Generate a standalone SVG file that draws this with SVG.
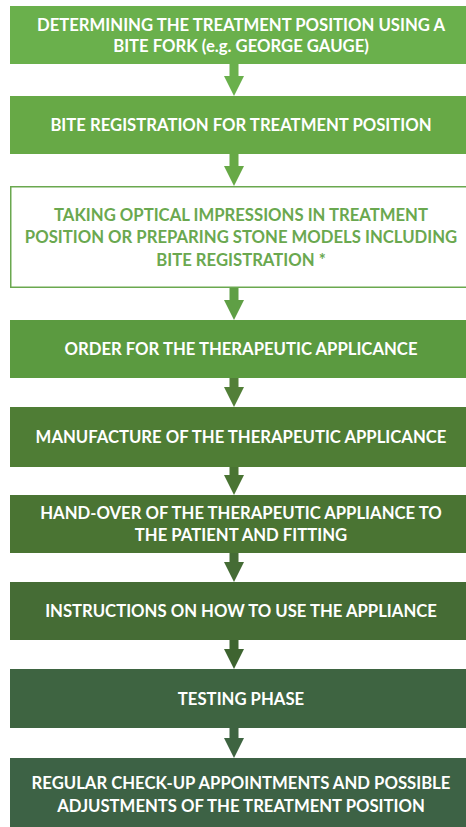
<svg xmlns="http://www.w3.org/2000/svg" width="466" height="827" viewBox="0 0 466 827">
<style>
  .t { font-family: Lato, "Open Sans", "Liberation Sans", sans-serif; font-weight: 700; font-size: 16.7px; text-anchor: middle; fill: #ffffff; }
  .g { fill: #6aa84f; }
</style>
<rect width="466" height="827" fill="#ffffff"/>
<g id="connectors">
  <path d="M229.5,64 H238.5 V76 H244 L234,96 L224,76 H229.5 Z" fill="#6ab04c"/>
  <path d="M229.5,154 H238.5 V166 H244 L234,186 L224,166 H229.5 Z" fill="#67a946"/>
  <path d="M229.5,288 H238.5 V300 H244 L234,320 L224,300 H229.5 Z" fill="#5f9f45"/>
  <path d="M229.5,378 H238.5 V387 H244 L234,407 L224,387 H229.5 Z" fill="#527f38"/>
  <path d="M229.5,467 H238.5 V475 H244 L234,495 L224,475 H229.5 Z" fill="#4a7433"/>
  <path d="M229.5,553 H238.5 V562 H244 L234,582 L224,562 H229.5 Z" fill="#456c35"/>
  <path d="M229.5,640 H238.5 V649 H244 L234,669 L224,649 H229.5 Z" fill="#3e6430"/>
  <path d="M229.5,728 H238.5 V738 H244 L234,758 L224,738 H229.5 Z" fill="#3e6441"/>
</g>
<g id="n1">
  <rect x="10" y="6" width="456" height="58" fill="#6ab04c"/>
  <text class="t" x="241" y="30.5">DETERMINING THE TREATMENT POSITION USING A</text>
  <text class="t" x="241" y="52">BITE FORK (e.g. GEORGE GAUGE)</text>
</g>
<g id="n2">
  <rect x="10" y="96" width="456" height="58" fill="#67a946"/>
  <text class="t" x="241" y="131">BITE REGISTRATION FOR TREATMENT POSITION</text>
</g>
<g id="n3">
  <rect x="10.75" y="186.75" width="460" height="100.5" fill="#ffffff" stroke="#6aa84f" stroke-width="1.5"/>
  <text class="t g" x="241" y="220.5">TAKING OPTICAL IMPRESSIONS IN TREATMENT</text>
  <text class="t g" x="241" y="243">POSITION OR PREPARING STONE MODELS INCLUDING</text>
  <text class="t g" x="241" y="265.5">BITE REGISTRATION *</text>
</g>
<g id="n4">
  <rect x="10" y="320" width="456" height="58" fill="#5b9a40"/>
  <text class="t" x="241" y="355">ORDER FOR THE THERAPEUTIC APPLICANCE</text>
</g>
<g id="n5">
  <rect x="10" y="407" width="456" height="60" fill="#4f7d35"/>
  <text class="t" x="241" y="443">MANUFACTURE OF THE THERAPEUTIC APPLICANCE</text>
</g>
<g id="n6">
  <rect x="10" y="495" width="456" height="58" fill="#4a7433"/>
  <text class="t" x="241" y="518.5">HAND-OVER OF THE THERAPEUTIC APPLIANCE TO</text>
  <text class="t" x="241" y="541">THE PATIENT AND FITTING</text>
</g>
<g id="n7">
  <rect x="10" y="582" width="456" height="58" fill="#456c35"/>
  <text class="t" x="241" y="617">INSTRUCTIONS ON HOW TO USE THE APPLIANCE</text>
</g>
<g id="n8">
  <rect x="10" y="669" width="456" height="59" fill="#3e6441"/>
  <text class="t" x="241" y="704.5">TESTING PHASE</text>
</g>
<g id="n9">
  <rect x="10" y="758" width="456" height="69" fill="#3d6245"/>
  <text class="t" x="241" y="789">REGULAR CHECK-UP APPOINTMENTS AND POSSIBLE</text>
  <text class="t" x="241" y="811.5">ADJUSTMENTS OF THE TREATMENT POSITION</text>
</g>
</svg>
